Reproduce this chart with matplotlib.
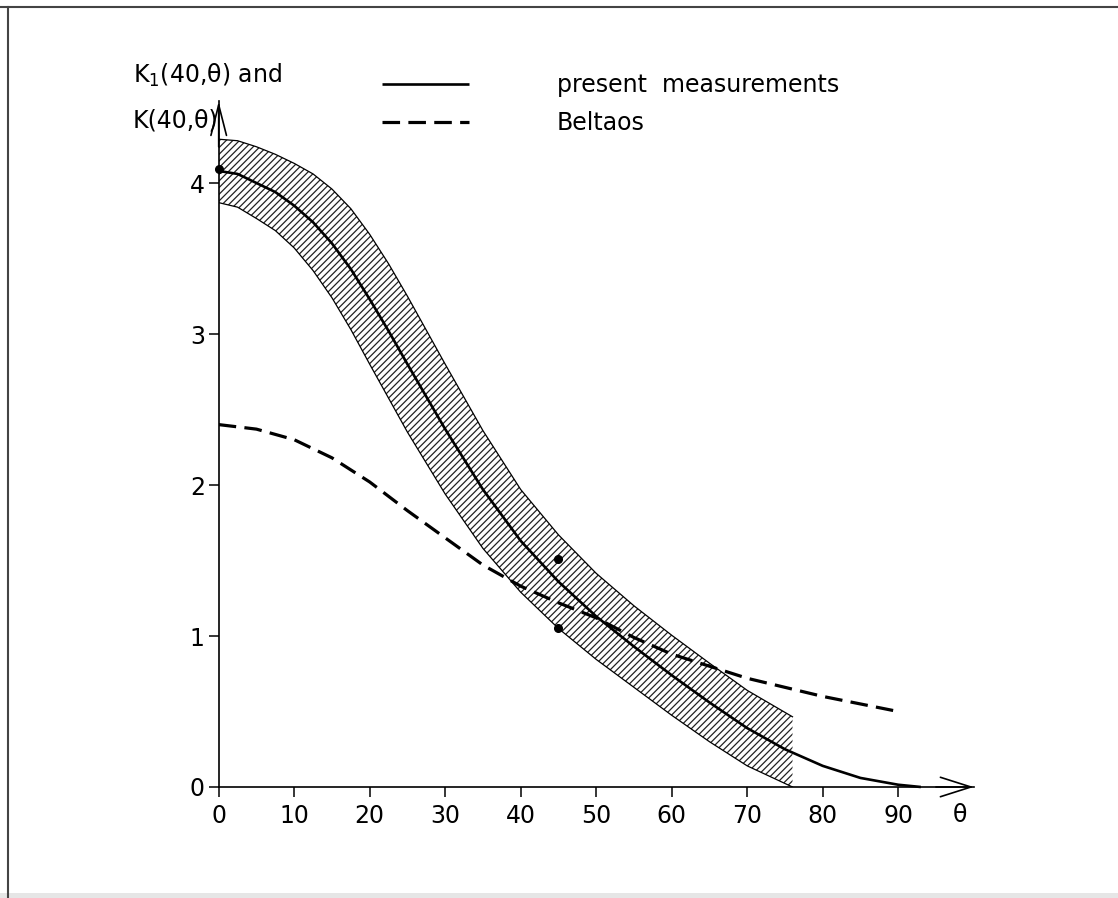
import matplotlib
matplotlib.use("Agg")
import matplotlib.pyplot as plt
from matplotlib.lines import Line2D
from matplotlib.patches import Rectangle

# present measurements, K1(40, theta)
theta_k1 = [0, 2.5, 5, 7.5, 10, 12.5, 15, 17.5, 20, 22.5, 25, 30, 35, 40, 45,
            50, 55, 60, 65, 70, 75, 80, 85, 90, 93]
k1 = [4.08, 4.06, 4.00, 3.94, 3.85, 3.74, 3.60, 3.43, 3.23, 3.02, 2.80, 2.37,
      1.97, 1.63, 1.36, 1.13, 0.93, 0.74, 0.56, 0.39, 0.25, 0.14, 0.06, 0.015, 0.0]

# scatter band around the measurements
theta_band = [0, 2.5, 5, 7.5, 10, 12.5, 15, 17.5, 20, 22.5, 25, 30, 35, 40,
              45, 50, 55, 60, 65, 70, 76]
band_hi = [4.29, 4.28, 4.24, 4.19, 4.13, 4.06, 3.96, 3.83, 3.66, 3.465, 3.25,
           2.80, 2.36, 1.97, 1.67, 1.415, 1.20, 1.005, 0.82, 0.64, 0.465]
band_lo = [3.87, 3.84, 3.765, 3.685, 3.57, 3.42, 3.24, 3.03, 2.80, 2.575, 2.35,
           1.94, 1.58, 1.29, 1.05, 0.845, 0.66, 0.475, 0.30, 0.14, 0.0]

# Beltaos
theta_b = [0, 5, 10, 15, 20, 25, 30, 35, 40, 45, 50, 55, 60, 65, 70, 75, 80, 85, 90]
beltaos = [2.40, 2.37, 2.30, 2.18, 2.02, 1.83, 1.65, 1.47, 1.33, 1.22, 1.12,
           0.99, 0.88, 0.80, 0.72, 0.66, 0.60, 0.55, 0.50]

# single data points
pts_theta = [0, 45, 45]
pts_k = [4.09, 1.51, 1.05]

xticks = [0, 10, 20, 30, 40, 50, 60, 70, 80, 90]
yticks = [0, 1, 2, 3, 4]

plt.rcParams['font.family'] = ['DejaVu Sans']
plt.rcParams['hatch.linewidth'] = 0.9
FS = 17

W, H = 1118, 898
fig = plt.figure(figsize=(W / 100, H / 100), dpi=100)

x0, y0 = 218.7, 787.0      # pixel position of origin
sx, sy = 7.55, 151.0       # pixels per unit
xmax, ymax = 100.0, 4.54
ax = fig.add_axes([x0 / W, (H - y0) / H, xmax * sx / W, ymax * sy / H])
ax.set_xlim(0, xmax)
ax.set_ylim(0, ymax)

for s in ['top', 'right']:
    ax.spines[s].set_visible(False)
for s in ['left', 'bottom']:
    ax.spines[s].set_linewidth(1.2)

ax.set_xticks(xticks)
ax.set_yticks(yticks)
ax.tick_params(direction='out', length=7, width=1.1, labelsize=FS)
ax.tick_params(axis='x', pad=5)
ax.tick_params(axis='y', pad=3)

# arrow heads on the axes
ax.annotate('', xy=(xmax, 0), xytext=(xmax - 5, 0), annotation_clip=False,
            arrowprops=dict(arrowstyle='->, head_length=1.1, head_width=0.35',
                            mutation_scale=20, lw=1.2, color='black',
                            shrinkA=0, shrinkB=0))
ax.annotate('', xy=(0, ymax), xytext=(0, ymax - 0.3), annotation_clip=False,
            arrowprops=dict(arrowstyle='->, head_length=1.1, head_width=0.28',
                            mutation_scale=20, lw=1.2, color='black',
                            shrinkA=0, shrinkB=0))

# band
ax.fill_between(theta_band, band_lo, band_hi, facecolor='white',
                edgecolor='#222222', hatch='/////', linewidth=0)
ax.plot(theta_band, band_hi, color='black', lw=0.9)
ax.plot(theta_band, band_lo, color='black', lw=0.9)

ax.plot(theta_k1, k1, color='black', lw=1.9, solid_capstyle='butt',
        label='present  measurements', clip_on=False)
ln, = ax.plot(theta_b, beltaos, color='black', lw=2.3, label='Beltaos')
ln.set_dashes([5.5, 2.6])

ax.plot(pts_theta, pts_k, 'o', color='black', ms=5.5, clip_on=False)

# axis labels
ax.text(98.2, -0.185, 'θ', fontsize=FS, ha='center', va='center', clip_on=False)
ax.text(-11.4, 4.715, 'K$_1$(40,θ) and', fontsize=FS, ha='left', va='center',
        clip_on=False)
ax.text(-11.4, 4.417, 'K(40,θ)', fontsize=FS, ha='left', va='center',
        clip_on=False)

leg = ax.legend(loc='upper left', bbox_to_anchor=(382 / W, 1 - 73 / H),
                bbox_transform=fig.transFigure, frameon=False, fontsize=FS,
                handlelength=3.7, handletextpad=3.7, labelspacing=0.6,
                borderpad=0, borderaxespad=0)

# picture frame
fig.add_artist(Line2D([0, 1], [1 - 6.5 / H] * 2, transform=fig.transFigure,
                      color='#444444', lw=1.5))
fig.add_artist(Line2D([8 / W] * 2, [0, 1 - 6.5 / H], transform=fig.transFigure,
                      color='#444444', lw=1.5))
fig.add_artist(Rectangle((0, 0), 1, 5 / H, transform=fig.transFigure,
                         facecolor='#e6e6e6', edgecolor='none'))

fig.savefig('out.png', dpi=100)
